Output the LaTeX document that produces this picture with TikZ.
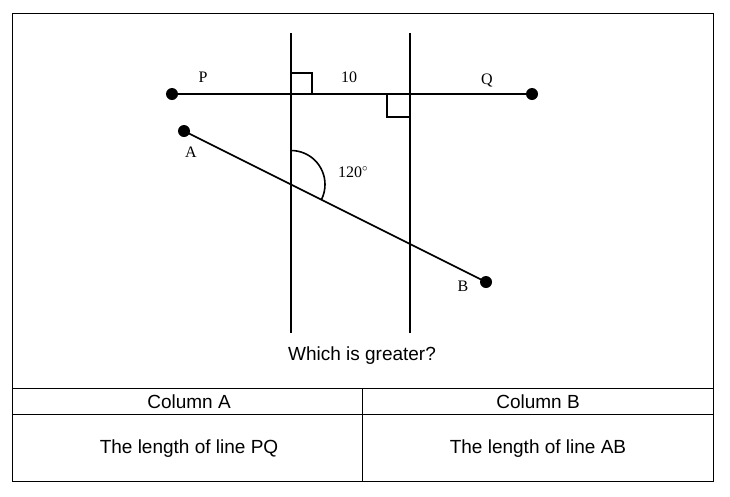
\documentclass[tikz,border=0pt]{standalone}
\usepackage{fontspec}
\setmainfont{Liberation Serif}
\newfontfamily\tabfont{Liberation Sans}
\begin{document}
\begin{tikzpicture}[x=1pt,y=-1pt,line width=1.6pt,
    dot/.style={circle,fill,inner sep=0pt,minimum size=12pt},
    lbl/.style={font=\fontsize{16}{18}\selectfont},
    tab/.style={font=\tabfont\fontsize{19}{22}\selectfont}]
            \useasboundingbox (0,0) rectangle (730,496);
            % table frame
            \draw[line width=0.8pt] (12,13) rectangle (713,481);
            \draw[line width=0.8pt] (12,388) -- (713,388) (12,414) -- (713,414) (362,388) -- (362,481);
            % vertical lines
            \draw (291,33) -- (291,333);
            \draw (410,33) -- (410,333);
            % points
            \node[dot] (P) at (172,94) {};
            \node[dot] (Q) at (532,94) {};
            \node[dot] (A) at (184,131) {};
            \node[dot] (B) at (486,282) {};
            \draw (P.center) -- (Q.center);
            \draw (A.center) -- (B.center);
            % right angles
            \draw (291,73) rectangle (312,94);
            \draw (387,94) rectangle (410,117);
            % angle
            \coordinate (X) at (291,184.5);
            \draw (X) ++(0,-34) arc[start angle=-90,end angle=26.6,radius=34];
            \node[lbl] at (203,77) {P};
            \node[lbl] at (487,80) {Q};
            \node[lbl] at (191,152) {A};
            \node[lbl] at (463,286) {B};
            \node[lbl] at (349,77) {10};
            \node[lbl] at (353,172) {120$^{\circ}$};
            \node[tab] at (362,356) {Which is greater?};
            \node[tab] at (189,402) {Column A};
            \node[tab] at (538,402) {Column B};
            \node[tab] at (189,449) {The length of line PQ};
            \node[tab] at (538,449) {The length of line AB};
        \end{tikzpicture}
\end{document}
